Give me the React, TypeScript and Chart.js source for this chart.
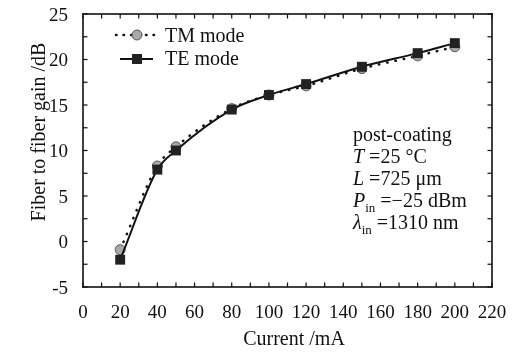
import React, { useEffect, useRef } from "react";
import { Chart, registerables } from "chart.js";

Chart.register(...registerables);

// ---- data ----
const currents = [20, 40, 50, 80, 100, 120, 150, 180, 200];
const tmGain = [-0.9, 8.3, 10.4, 14.6, 16.1, 17.1, 19.0, 20.4, 21.4];
const teGain = [-2.0, 7.9, 10.0, 14.5, 16.1, 17.3, 19.2, 20.7, 21.8];
const xRange = [0, 220];
const yRange = [-5, 25];
const xLabelStep = 20;
const yLabelStep = 5;
const xMinorStep = 10;
const yMinorStep = 2.5;
const seriesNames = ["TM mode", "TE mode"];
const xTitle = "Current /mA";
const yTitle = "Fiber to fiber gain /dB";

const SERIF = '"Liberation Serif", "Times New Roman", serif';
const INK = "#111";

const decorPlugin = {
  id: "decor",
  afterDraw(chart: any) {
    const ctx = chart.ctx as CanvasRenderingContext2D;
    const area = chart.chartArea;
    const left = area.left;
    const right = area.right;
    const top = area.top;
    const bottom = area.bottom;
    const xs = chart.scales.x;
    const ys = chart.scales.y;
    ctx.save();
    ctx.setLineDash([]);
    ctx.globalAlpha = 1;
    ctx.fillStyle = INK;
    // frame (solid bars)
    const w = 1.6;
    ctx.fillRect(left - w / 2, top - w / 2, right - left + w, w);
    ctx.fillRect(left - w / 2, bottom - w / 2, right - left + w, w);
    ctx.fillRect(left - w / 2, top - w / 2, w, bottom - top + w);
    ctx.fillRect(right - w / 2, top - w / 2, w, bottom - top + w);
    // inward ticks
    const tw = 1.2;
    const tl = 4.5;
    for (let v = xRange[0]; v <= xRange[1] + 1e-6; v += xMinorStep) {
      const px = xs.getPixelForValue(v);
      ctx.fillRect(px - tw / 2, bottom - tl, tw, tl);
      ctx.fillRect(px - tw / 2, top, tw, tl);
    }
    for (let v = yRange[0]; v <= yRange[1] + 1e-6; v += yMinorStep) {
      const py = ys.getPixelForValue(v);
      ctx.fillRect(left, py - tw / 2, tl, tw);
      ctx.fillRect(right - tl, py - tw / 2, tl, tw);
    }

    // tick labels from the library's scales
    ctx.font = `19px ${SERIF}`;
    ctx.fillStyle = INK;
    ctx.textAlign = "center";
    ctx.textBaseline = "middle";
    for (const t of xs.ticks) {
      ctx.fillText(String(t.value), xs.getPixelForValue(t.value), 313);
    }
    ctx.textAlign = "right";
    for (const t of ys.ticks) {
      ctx.fillText(String(t.value), 68, ys.getPixelForValue(t.value) + 2);
    }

    // axis titles
    ctx.font = `20px ${SERIF}`;
    ctx.textAlign = "center";
    ctx.textBaseline = "middle";
    ctx.save();
    ctx.translate(40, 132);
    ctx.rotate(-Math.PI / 2);
    ctx.fillText(yTitle, 0, 0);
    ctx.restore();
    ctx.fillText(xTitle, 294, 340);

    // legend
    ctx.textAlign = "left";
    ctx.textBaseline = "middle";
    // TM
    ctx.strokeStyle = INK;
    ctx.lineWidth = 2.5;
    ctx.lineCap = "round";
    ctx.setLineDash([0.5, 7]);
    ctx.beginPath();
    ctx.moveTo(116, 35);
    ctx.lineTo(158, 35);
    ctx.stroke();
    ctx.setLineDash([]);
    ctx.beginPath();
    ctx.arc(137, 35, 5, 0, Math.PI * 2);
    ctx.fillStyle = "#a8a8a8";
    ctx.fill();
    ctx.lineWidth = 1;
    ctx.strokeStyle = "#555";
    ctx.stroke();
    ctx.fillStyle = INK;
    ctx.fillText(seriesNames[0], 165, 37);
    // TE
    ctx.strokeStyle = INK;
    ctx.lineWidth = 2;
    ctx.lineCap = "butt";
    ctx.beginPath();
    ctx.moveTo(120, 59);
    ctx.lineTo(153, 59);
    ctx.stroke();
    ctx.fillStyle = "#222";
    ctx.fillRect(132, 54, 10, 10);
    ctx.fillStyle = INK;
    ctx.fillText(seriesNames[1], 165, 60);

    // annotation
    const ax = 353;
    ctx.textBaseline = "alphabetic";
    const reg = `20px ${SERIF}`;
    const ita = `italic 20px ${SERIF}`;
    const sub = `13px ${SERIF}`;
    const seg = (parts: [string, string, number][], y: number) => {
      let x = ax;
      for (const [t, f, dy] of parts) {
        ctx.font = f;
        ctx.fillText(t, x, y + dy);
        x += ctx.measureText(t).width;
      }
    };
    seg([["post-coating", reg, 0]], 141);
    seg([["T", ita, 0], [" =25 \u00B0C", reg, 0]], 163);
    seg([["L", ita, 0], [" =725 \u03BCm", reg, 0]], 185);
    seg([["P", ita, 0], ["in", sub, 5], [" =\u221225 dBm", reg, 0]], 207);
    seg([["\u03BB", ita, 0], ["in", sub, 5], [" =1310 nm", reg, 0]], 229);
    ctx.restore();
  },
};

export default function App() {
  const ref = useRef<HTMLCanvasElement>(null);
  useEffect(() => {
    const canvas = ref.current!;
    const chart = new Chart(canvas, {
      type: "line",
      data: {
        datasets: [
          {
            label: seriesNames[1],
            data: currents.map((c, i) => ({ x: c, y: teGain[i] })),
            borderColor: "#111",
            borderWidth: 2,
            backgroundColor: "#222",
            pointStyle: "rect",
            pointRadius: 7,
            pointBorderWidth: 0,
            cubicInterpolationMode: "monotone",
          },
          {
            label: seriesNames[0],
            data: currents.map((c, i) => ({ x: c, y: tmGain[i] })),
            borderColor: "#111",
            borderWidth: 2.5,
            borderDash: [0.5, 8],
            borderCapStyle: "round",
            backgroundColor: "#a8a8a8",
            pointStyle: "circle",
            pointRadius: 5,
            pointBorderColor: "#555",
            pointBorderWidth: 1,
            cubicInterpolationMode: "monotone",
          },
        ],
      },
      options: {
        responsive: false,
        animation: false,
        devicePixelRatio: 1,
        layout: { padding: { top: 14, right: 24, left: 0, bottom: 0 } },
        plugins: { legend: { display: false }, tooltip: { enabled: false } },
        scales: {
          x: {
            type: "linear",
            min: xRange[0],
            max: xRange[1],
            grid: { display: false, drawTicks: false },
            border: { display: false },
            ticks: { stepSize: xLabelStep, display: false },
            afterFit: (s: any) => {
              s.height = 66;
            },
          },
          y: {
            type: "linear",
            min: yRange[0],
            max: yRange[1],
            grid: { display: false, drawTicks: false },
            border: { display: false },
            ticks: { stepSize: yLabelStep, display: false },
            afterFit: (s: any) => {
              s.width = 83;
            },
          },
        },
      },
      plugins: [decorPlugin],
    } as any);
    return () => chart.destroy();
  }, []);
  return (
    <div style={{ position: "absolute", left: 0, top: 0, width: 516, height: 353, background: "#fff" }}>
      <canvas ref={ref} width={516} height={353} />
    </div>
  );
}
